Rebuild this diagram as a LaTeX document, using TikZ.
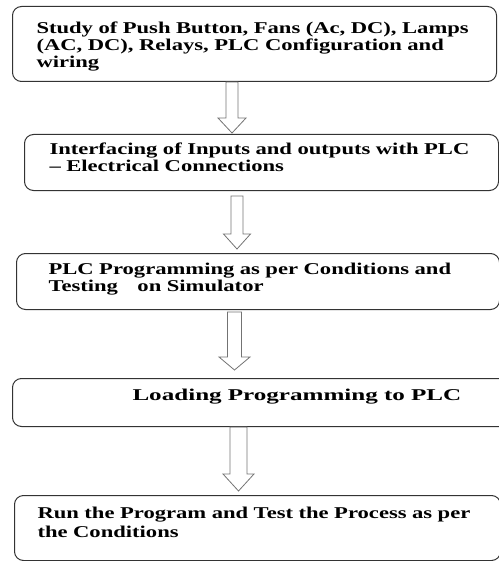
\documentclass[tikz,border=0pt]{standalone}
\usepackage{fontspec}
\usepackage{graphicx}
\newfontfamily\stagefont{Liberation Serif}[FakeStretch=1.37]
\usetikzlibrary{calc}
\colorlet{boxcol}{black!80}
\colorlet{arrcol}{black!55}
\tikzset{
  stage/.style={draw=boxcol, line width=1bp, rounded corners=9bp, anchor=north west,
    align=left, inner ysep=0pt,
    font=\stagefont\bfseries\fontsize{16.5bp}{17bp}\selectfont},
  hollow/.style={draw=arrcol, line width=0.8bp}
}
% from, to, centre x, shaft half, head half, head length, top gap, tip gap
\newcommand{\flowarrow}[8]{%
  \draw[hollow] let \p1=(#1.south), \p2=(#2.north) in
    ({(#3-#4)*1bp},{\y1-#7*1bp}) -- ({(#3-#4)*1bp},{\y2+(#8+#6)*1bp})
    -- ({(#3-#5)*1bp},{\y2+(#8+#6)*1bp}) -- ({#3*1bp},{\y2+#8*1bp})
    -- ({(#3+#5)*1bp},{\y2+(#8+#6)*1bp}) -- ({(#3+#4)*1bp},{\y2+(#8+#6)*1bp})
    -- ({(#3+#4)*1bp},{\y1-#7*1bp}) -- cycle;}

\begin{document}
\begin{tikzpicture}[x=1bp, y=-1bp]
  \useasboundingbox (0,0) rectangle (499,561);
  \clip (0,0) rectangle (499,561);

  \node[stage, inner xsep=24bp, text width=436bp, text height=27bp, text depth=48bp] (study) at (12,6)
    {Study of Push Button, Fans (Ac, DC), Lamps\\(AC, DC), Relays, PLC Configuration and\\wiring};
  \node[stage, inner xsep=25bp, text width=424bp, text height=20bp, text depth=36bp] (iface) at (24,134)
    {Interfacing of Inputs and outputs with PLC\\\textendash{} Electrical Connections};
  \node[stage, inner xsep=32bp, text width=419bp, text height=21bp, text depth=35bp] (prog) at (16,253)
    {PLC Programming as per Conditions and\\Testing\hspace{14bp} on Simulator};
  \node[stage, inner xsep=120bp, text width=330bp, text height=22bp, text depth=26bp] (load) at (12,378)
    {\scalebox{1.11}[1]{Loading Programming to PLC}};
  \node[stage, inner xsep=23bp, text width=440bp, text height=23bp, text depth=42bp] (run) at (14,495)
    {Run the Program and Test the Process as per\\[2bp]the Conditions};

  \flowarrow{study}{iface}{232}{6}{14}{15}{0}{1}
  \flowarrow{iface}{prog}{237}{6}{13.5}{15}{5}{4}
  \flowarrow{prog}{load}{234.5}{7}{15.5}{13}{2}{8}
  \flowarrow{load}{run}{238.5}{8.5}{15.5}{17}{0}{4}
\end{tikzpicture}
\end{document}
